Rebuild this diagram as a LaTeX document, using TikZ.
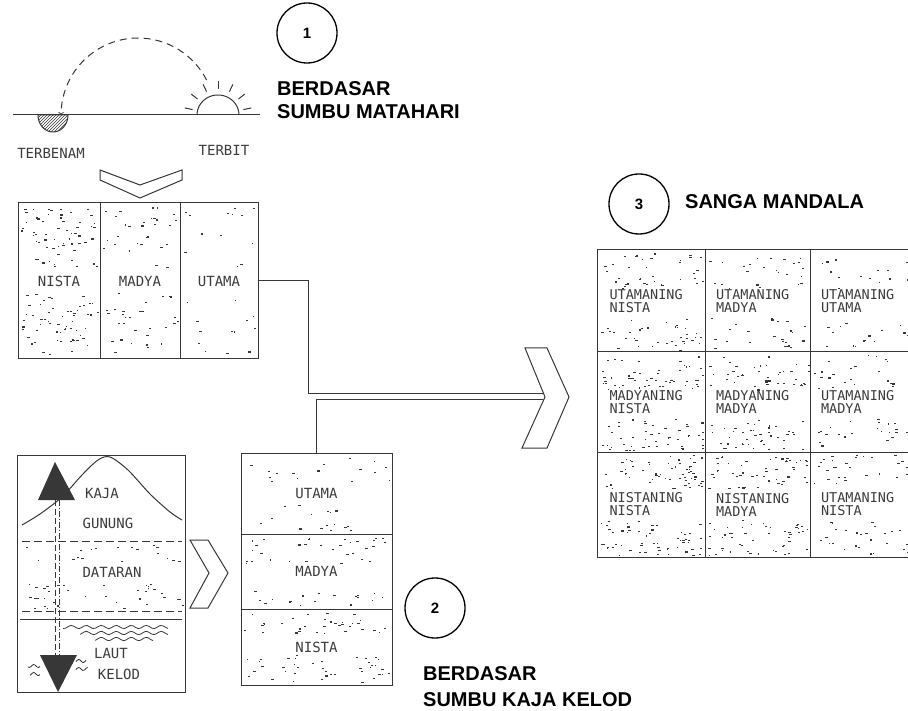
\documentclass[tikz,border=0pt]{standalone}
\usepackage{fontspec}
\setmainfont{Liberation Sans}
\newfontfamily\handfont{DejaVu Sans Mono}
\usepackage{tikz}
\usetikzlibrary{arrows}
\usetikzlibrary{patterns}

\definecolor{inkgray}{RGB}{55,55,55}
\definecolor{handgray}{RGB}{60,60,60}

% random stipple in a box: x1 y1 x2 y2 count
\newcommand{\speckle}[5]{%
  \foreach \k in {1,...,#5}{%
    \pgfmathsetmacro{\px}{#1+rnd*(#3-#1)}%
    \pgfmathsetmacro{\py}{#2+rnd*(#4-#2)}%
    \pgfmathsetmacro{\pw}{1+2*rnd}%
    \fill[inkgray] (\px,\py) rectangle ++(\pw,1.1);
  }}

\begin{document}
\begin{tikzpicture}[x=1pt,y=-1pt,
  ink/.style={draw=inkgray,line width=1pt},
  hand/.style={font=\handfont\fontsize{14}{14}\selectfont,text=handgray},
  num/.style={circle,draw=black,line width=1.3pt,minimum size=60pt,inner sep=0pt,
    font=\bfseries\fontsize{15}{15}\selectfont},
  head/.style={font=\bfseries\fontsize{20}{23}\selectfont,align=left,inner sep=0pt},
  zone/.style={ink,inner sep=0pt,hand},
  gcell/.style={ink,minimum width=#1,text width=83pt,inner xsep=11pt,align=left,
    font=\handfont\fontsize{13.5}{13}\selectfont,text=handgray}]
\useasboundingbox (0,0) rectangle (908,711);
\pgfmathsetseed{41}

% sun path
\draw [ink] (13,115) -- (260,115);
\draw [ink,pattern=north east lines,pattern color=inkgray] plot[domain=0:180,samples=30] ({53+15*cos(\x)},{115+17*sin(\x)}) -- cycle;
\draw [ink] plot[domain=0:180,samples=30] ({218+21*cos(\x)},{115-20*sin(\x)});
\foreach \a in {12,38,64,90,116,142,168}
  \draw [ink] ({218+26*cos(\a)},{115-26*sin(\a)}) -- ({218+34*cos(\a)},{115-34*sin(\a)});
\draw [ink,dashed,dash pattern=on 7pt off 5pt,-to] plot[domain=27:180,samples=40] ({138+77*cos(\x)},{115-77*sin(\x)});
\node [hand] (terbenam) at (51,153) {TERBENAM};
\node [hand] (terbit) at (224,150) {TERBIT};
\draw [ink] (100,170) -- (100,180) -- (140,198) -- (182,180) -- (182,170) -- (140,185) -- cycle;

% three zones east-west
\node [zone,minimum width=82pt,minimum height=156pt] (nista) at (59,281) {NISTA};
\node [zone,minimum width=80pt,minimum height=156pt] (madya) at (140,281) {MADYA};
\node [zone,minimum width=78pt,minimum height=156pt] (utama) at (219,281) {UTAMA};
\speckle{21}{207}{97}{268}{60}
\speckle{21}{293}{97}{355}{60}
\speckle{103}{207}{177}{268}{30}
\speckle{103}{293}{177}{355}{30}
\speckle{183}{207}{255}{268}{13}
\speckle{183}{293}{255}{355}{13}
\node [num] (n1) at (307,33) {1};
\node [head,anchor=north west] (sumbu1) at (277,81) {BERDASAR\\SUMBU MATAHARI};

% mountain to sea
\draw [ink] (17,455) rectangle (185,692);
\draw [ink] plot[smooth] coordinates {(22,525) (40,514) (62,497) (82,475) (98,460) (110,457) (128,470) (150,494) (170,512) (182,520)};
\draw [ink,dashed,dash pattern=on 8pt off 4pt] (22,541) -- (182,541);
\draw [ink,dashed,dash pattern=on 8pt off 4pt] (22,611) -- (182,611);
\draw [ink] (20,619) -- (182,619);
\foreach \wy/\wa/\wb in {627/63/168,633/80/168,639/95/153}
  \draw [ink,line width=0.8pt] plot[domain=\wa:\wb,samples=40] (\x,{\wy+1.6*sin(\x*24)});
\draw [ink,line width=0.8pt] plot[domain=28:40,samples=10] (\x,{666+1.5*sin(\x*40)});
\draw [ink,line width=0.8pt] plot[domain=30:40,samples=10] (\x,{674+1.5*sin(\x*40)});
\draw [ink,line width=0.8pt] plot[domain=76:86,samples=10] (\x,{661+1.5*sin(\x*40)});
\draw [ink,line width=0.8pt] plot[domain=76:88,samples=10] (\x,{669+1.5*sin(\x*40)});
\draw [ink,line width=0.7pt,dashed,dash pattern=on 6pt off 3pt] (55,500) -- (55,655);
\draw [ink,line width=0.7pt,dash pattern=on 6pt off 2pt on 1pt off 2pt] (59,500) -- (59,655);
\fill [inkgray] (55,462) -- (38,500) -- (75,500) -- cycle;
\fill [inkgray] (40,655) -- (77,655) -- (58,692) -- cycle;
\speckle{22}{545}{182}{562}{18}
\speckle{22}{583}{182}{608}{36}
\node [hand] (kaja) at (102,493) {KAJA};
\node [hand] (gunung) at (108,523) {GUNUNG};
\node [hand] (dataran) at (112,572) {DATARAN};
\node [hand] (laut) at (111,653) {LAUT};
\node [hand] (kelod) at (119,674) {KELOD};
\draw [ink] (190,540) -- (208,540) -- (228,573) -- (208,608) -- (190,608) -- (209,573) -- cycle;

% three zones kaja-kelod
\node [zone,minimum width=151pt,minimum height=81pt] (kutama) at (316.5,493.5) {UTAMA};
\node [zone,minimum width=151pt,minimum height=75pt] (kmadya) at (316.5,571.5) {MADYA};
\node [zone,minimum width=151pt,minimum height=76pt] (knista) at (316.5,647) {NISTA};
\speckle{244}{456}{389}{483}{16}
\speckle{244}{505}{389}{531}{16}
\speckle{244}{537}{389}{563}{32}
\speckle{244}{591}{389}{606}{18}
\speckle{244}{612}{389}{633}{34}
\speckle{244}{653}{389}{682}{40}
\node [num] (n2) at (435,608) {2};
\node [head,anchor=north west,font=\bfseries\fontsize{20}{26}\selectfont] (sumbu2) at (423,666) {BERDASAR\\SUMBU KAJA KELOD};

% merge into sanga mandala
\coordinate (turn1) at (308,393);
\coordinate (feed1) at (543,393);
\coordinate (feed2) at (543,399);
\draw [ink] (utama.east) -| (turn1) -- (feed1);
\draw [ink] (kutama.north) |- (feed2);
\draw [ink] (525,348) -- (547,348) -- (569,397) -- (547,448) -- (522,448) -- (545,397) -- cycle;

% sanga mandala grid
\node [num] (n3) at (639,204) {3};
\node [font=\bfseries\fontsize{20}{20}\selectfont,anchor=base west,inner sep=0pt] (sanga) at (685,209) {SANGA MANDALA};
\node [gcell=108pt,minimum height=102pt] (c11) at (651,301) {UTAMANING\\NISTA};
\node [gcell=105pt,minimum height=102pt] (c12) at (757.5,301) {UTAMANING\\MADYA};
\node [gcell=105pt,minimum height=102pt] (c13) at (862.5,301) {UTAMANING\\UTAMA};
\node [gcell=108pt,minimum height=100pt] (c21) at (651,402) {MADYANING\\NISTA};
\node [gcell=105pt,minimum height=100pt] (c22) at (757.5,402) {MADYANING\\MADYA};
\node [gcell=105pt,minimum height=100pt] (c23) at (862.5,402) {UTAMANING\\MADYA};
\node [gcell=108pt,minimum height=105pt] (c31) at (651,504.5) {NISTANING\\NISTA};
\node [gcell=105pt,minimum height=105pt] (c32) at (757.5,504.5) {NISTANING\\MADYA};
\node [gcell=105pt,minimum height=105pt] (c33) at (862.5,504.5) {UTAMANING\\NISTA};
\speckle{600}{253}{703}{288}{36}
\speckle{600}{318}{703}{350}{36}
\speckle{708}{253}{808}{288}{24}
\speckle{708}{318}{808}{350}{24}
\speckle{813}{253}{908}{288}{15}
\speckle{813}{318}{908}{350}{15}
\speckle{600}{355}{703}{390}{50}
\speckle{600}{419}{703}{450}{50}
\speckle{708}{355}{808}{390}{42}
\speckle{708}{419}{808}{450}{42}
\speckle{813}{355}{908}{390}{22}
\speckle{813}{419}{908}{450}{22}
\speckle{600}{455}{703}{489}{58}
\speckle{600}{520}{703}{555}{58}
\speckle{708}{455}{808}{489}{50}
\speckle{708}{520}{808}{555}{50}
\speckle{813}{455}{908}{489}{28}
\speckle{813}{520}{908}{555}{28}
\end{tikzpicture}
\end{document}
